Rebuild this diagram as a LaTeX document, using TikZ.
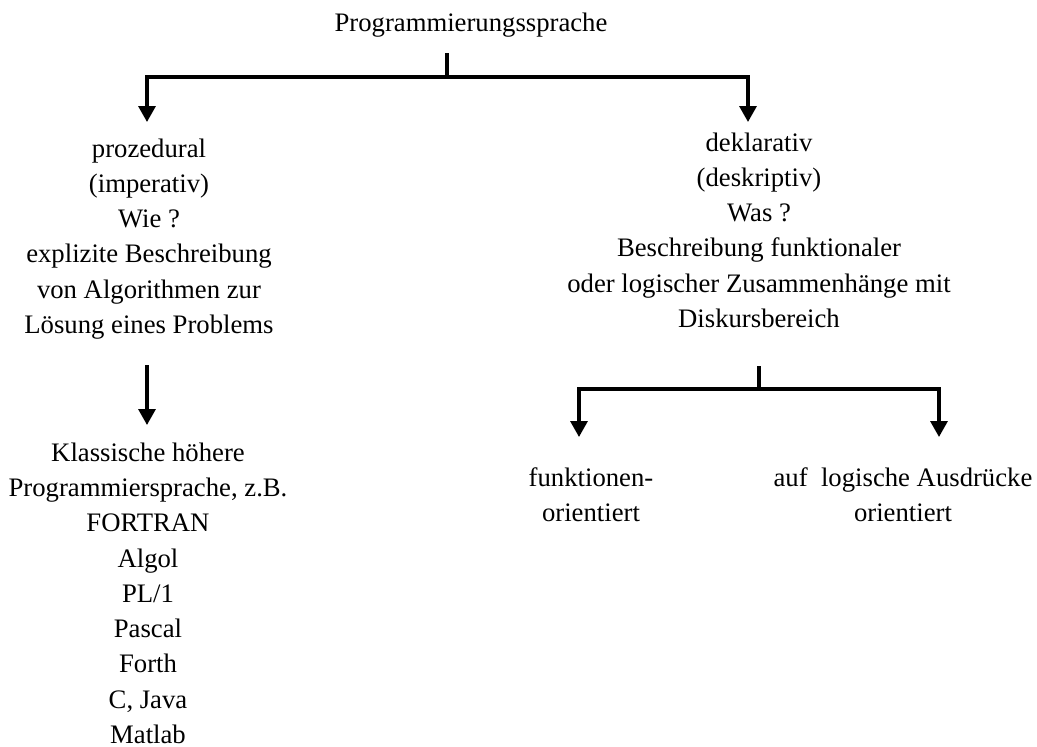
\documentclass[tikz,border=0pt]{standalone}
\usepackage{fontspec}
\setmainfont{Liberation Serif}
\usetikzlibrary{arrows.meta}
\begin{document}
\begin{tikzpicture}[x=1pt,y=-1pt,
  txt/.style={align=center,inner sep=0pt,anchor=base,
    font=\fontsize{26.7}{35.3}\selectfont},
  wire/.style={line width=3.3pt,line join=miter},
  arr/.style={wire,-{Triangle[width=17pt,length=16pt]}}]
\useasboundingbox (0,0) rectangle (1037,747);

% texts (each node is placed by the baseline of its last line)
\node[txt] (root) at (471,31) {Programmierungssprache};
\node[txt] (proz) at (149,333.5) {prozedural\\(imperativ)\\Wie ?\\explizite Beschreibung\\von Algorithmen zur\\Lösung eines Problems};
\node[txt] (dekl) at (759,327.5) {deklarativ\\(deskriptiv)\\Was ?\\Beschreibung funktionaler\\oder logischer Zusammenhänge mit\\Diskursbereich};
\node[txt] (klass) at (148,743.5) {Klassische höhere\\Programmiersprache, z.B.\\FORTRAN\\Algol\\PL/1\\Pascal\\Forth\\C, Java\\Matlab};
\node[txt] (funk) at (591,521.3) {funktionen-\\orientiert};
\node[txt] (logi) at (903,521.3) {auf\ \ logische Ausdrücke\\orientiert};

% top split
\coordinate (rs) at (447,53);
\coordinate (rj) at (447,77);
\coordinate (pt) at (147,122);
\coordinate (dt) at (748,122);
\draw[wire] (rs) -- (rj);
\draw[arr] (rj) -| (pt);
\draw[arr] (rj) -| (dt);

% procedural -> classic languages
\coordinate (ps) at (147,365);
\coordinate (kt) at (147,425);
\draw[arr] (ps) -- (kt);

% declarative split
\coordinate (ds) at (759,366);
\coordinate (dj) at (759,389);
\coordinate (ft) at (579,437);
\coordinate (lt) at (939,437);
\draw[wire] (ds) -- (dj);
\draw[arr] (dj) -| (ft);
\draw[arr] (dj) -| (lt);
\end{tikzpicture}
\end{document}
